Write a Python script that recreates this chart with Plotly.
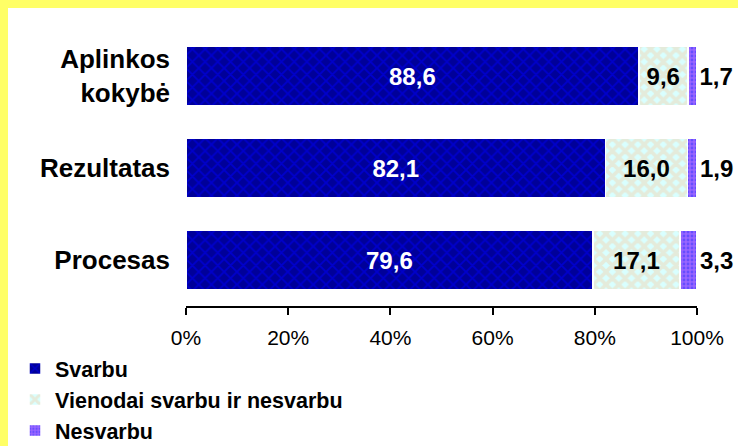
import plotly.graph_objects as go

categories = ["Procesas", "Rezultatas", "Aplinkos<br>kokybė"]
svarbu = [79.6, 82.1, 88.6]
vienodai = [17.1, 16.0, 9.6]
nesvarbu = [3.3, 1.9, 1.7]
series_names = ["Svarbu", "Vienodai svarbu ir nesvarbu", "Nesvarbu"]
tick_vals = [0, 20, 40, 60, 80, 100]
tick_text = ["0%", "20%", "40%", "60%", "80%", "100%"]

def fmt(v):
    return f"{v:.1f}".replace(".", ",")

FONT = "Liberation Sans, Arial, sans-serif"

fig = go.Figure()
fig.add_trace(go.Bar(
    y=categories, x=svarbu, orientation="h", name=series_names[0],
    marker=dict(color="#00009A", line=dict(color="white", width=1.5),
                pattern=dict(shape="x", fgcolor="#0000FF", bgcolor="#000099", size=9, solidity=0.35)),
    text=[fmt(v) for v in svarbu], textposition="inside", insidetextanchor="middle",
    textfont=dict(color="white", size=24, family=FONT, weight="bold"),
))
fig.add_trace(go.Bar(
    y=categories, x=vienodai, orientation="h", name=series_names[1],
    marker=dict(color="#DDFFFF", line=dict(color="white", width=1.5),
                pattern=dict(shape="x", fgcolor="#F0D8B8", bgcolor="#D9FFFF", size=9, solidity=0.65)),
    text=[fmt(v) for v in vienodai], textposition="inside", insidetextanchor="middle",
    textfont=dict(color="black", size=24, family=FONT, weight="bold"),
))
fig.add_trace(go.Bar(
    y=categories, x=nesvarbu, orientation="h", name=series_names[2],
    marker=dict(color="#9966FF", line=dict(color="white", width=1.5),
                pattern=dict(shape=".", fgcolor="#3333FF", bgcolor="#9966FF", size=4, solidity=0.4)),
    text=[fmt(v) for v in nesvarbu], textposition="outside",
    textfont=dict(color="black", size=24, family=FONT, weight="bold"),
    cliponaxis=False,
))

# plot area: x 186..697, y 30..306 in a 738x446 canvas
L, R, T, B = 186, 41, 30, 140
W, H = 738 - L - R, 446 - T - B

def px_x(p):
    return (p - L) / W

def px_y(p):
    return (446 - B - p) / H

fig.update_layout(
    width=738, height=446,
    margin=dict(l=L, r=R, t=T, b=B, autoexpand=False),
    barmode="stack", bargap=0.344,
    paper_bgcolor="#FFFF66", plot_bgcolor="white",
    font=dict(family=FONT, color="black"),
    uniformtext=dict(mode=False),
    xaxis=dict(range=[0, 100], tickvals=tick_vals, ticktext=tick_text,
               showgrid=False, zeroline=False, showline=True, linecolor="black", linewidth=2,
               ticks="outside", ticklen=7, tickwidth=2, tickcolor="black",
               tickfont=dict(size=21, family=FONT), ticklabelstandoff=5),
    yaxis=dict(showgrid=False, zeroline=False, showline=False, ticks="",
               tickfont=dict(size=26, family=FONT, weight="bold"), ticklabelstandoff=15,
               range=[-0.5, 2.5]),
    legend=dict(orientation="v", x=px_x(15), y=px_y(348), xanchor="left", yanchor="top",
                font=dict(size=21.5, family=FONT, weight="bold"), traceorder="normal",
                itemwidth=30, bgcolor="rgba(0,0,0,0)", tracegroupgap=0),
    showlegend=True,
    shapes=[dict(type="rect", xref="paper", yref="paper", layer="below",
                 x0=px_x(8), x1=px_x(760), y0=px_y(470), y1=px_y(8),
                 fillcolor="white", line=dict(width=0))],
)

fig.write_html("out.html", config={"displayModeBar": False},
               post_script="document.body.style.margin='0px';document.body.style.overflow='hidden';")
